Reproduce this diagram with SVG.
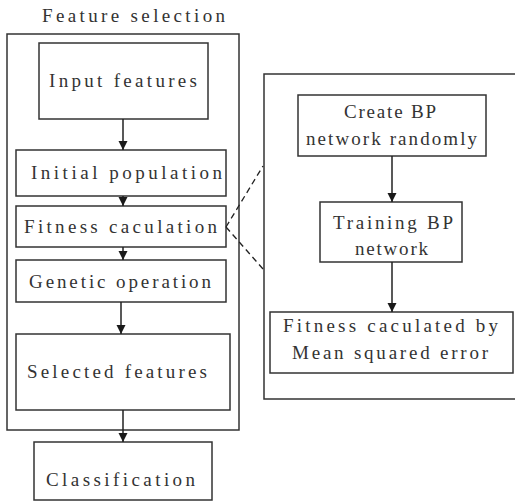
<svg xmlns="http://www.w3.org/2000/svg" width="515" height="503" viewBox="0 0 515 503">
<defs>
<marker id="ah" markerWidth="9" markerHeight="12" refX="9" refY="4.5" orient="auto" markerUnits="userSpaceOnUse">
<path d="M0,0 L9,4.5 L0,9 Z" fill="#1a1a1a"/>
</marker>
<style>
.box{fill:#fff;stroke:#333;stroke-width:1.5}
.frame{fill:none;stroke:#333;stroke-width:1.5}
.t{font-family:"Liberation Serif","DejaVu Serif",serif;font-size:19px;fill:#333;text-anchor:middle}
.c{stroke:#222;stroke-width:1.5;fill:none}
.d{stroke:#222;stroke-width:1.3;fill:none;stroke-dasharray:6,4}
</style>
</defs>
<rect width="515" height="503" fill="#fff"/>
<g id="feature-selection-frame">
<rect class="frame" x="7" y="34" width="232" height="396"/>
<text class="t" x="133.5" y="22" textLength="183" lengthAdjust="spacing">Feature selection</text>
</g>
<g id="bp-frame">
<path class="frame" d="M520,74 H264 V399 H520"/>
</g>
<g id="input-features">
<rect class="box" x="39" y="43" width="169" height="76"/>
<text class="t" x="123" y="87" textLength="148" lengthAdjust="spacing">Input features</text>
</g>
<g id="initial-population">
<rect class="box" x="16" y="150" width="210" height="46"/>
<text class="t" x="126.5" y="179" textLength="191" lengthAdjust="spacing">Initial population</text>
</g>
<g id="fitness-caculation">
<rect class="box" x="16" y="206" width="210" height="41"/>
<text class="t" x="120.5" y="233" textLength="193" lengthAdjust="spacing">Fitness caculation</text>
</g>
<g id="genetic-operation">
<rect class="box" x="16" y="260" width="210" height="42"/>
<text class="t" x="120" y="288" textLength="182" lengthAdjust="spacing">Genetic operation</text>
</g>
<g id="selected-features">
<rect class="box" x="16" y="334" width="214" height="76"/>
<text class="t" x="117" y="378" textLength="180" lengthAdjust="spacing">Selected features</text>
</g>
<g id="classification">
<rect class="box" x="34" y="442" width="178" height="58"/>
<text class="t" x="120.5" y="486" textLength="149" lengthAdjust="spacing">Classification</text>
</g>
<g id="create-bp">
<rect class="box" x="298" y="95" width="188" height="61"/>
<text class="t" x="390" y="118" textLength="92" lengthAdjust="spacing">Create BP</text>
<text class="t" x="391.5" y="145" textLength="171" lengthAdjust="spacing">network randomly</text>
</g>
<g id="training-bp">
<rect class="box" x="320" y="202" width="142" height="60"/>
<text class="t" x="393" y="229" textLength="120" lengthAdjust="spacing">Training BP</text>
<text class="t" x="391.5" y="255" textLength="73" lengthAdjust="spacing">network</text>
</g>
<g id="fitness-mse">
<rect class="box" x="270" y="312" width="243" height="61"/>
<text class="t" x="390.5" y="332" textLength="215" lengthAdjust="spacing">Fitness caculated by</text>
<text class="t" x="390" y="359" textLength="196" lengthAdjust="spacing">Mean squared error</text>
</g>
<g id="connectors">
<line class="c" x1="123" y1="119" x2="123" y2="150" marker-end="url(#ah)"/>
<line class="c" x1="123" y1="196" x2="123" y2="206" marker-end="url(#ah)"/>
<line class="c" x1="123" y1="247" x2="123" y2="260" marker-end="url(#ah)"/>
<line class="c" x1="121" y1="302" x2="121" y2="334" marker-end="url(#ah)"/>
<line class="c" x1="123" y1="410" x2="123" y2="442" marker-end="url(#ah)"/>
<line class="c" x1="392" y1="156" x2="392" y2="202" marker-end="url(#ah)"/>
<line class="c" x1="392" y1="262" x2="392" y2="312" marker-end="url(#ah)"/>
<line class="d" x1="226" y1="227" x2="263" y2="166"/>
<line class="d" x1="226" y1="227" x2="263" y2="269"/>
</g>
</svg>
